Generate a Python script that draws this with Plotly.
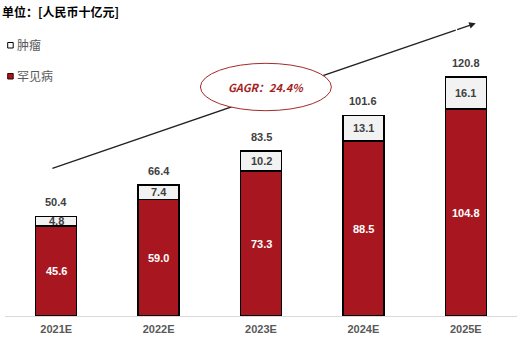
import plotly.graph_objects as go

years = ["2021E", "2022E", "2023E", "2024E", "2025E"]
rare = [45.6, 59.0, 73.3, 88.5, 104.8]
tumor = [4.8, 7.4, 10.2, 13.1, 16.1]
totals = [50.4, 66.4, 83.5, 101.6, 120.8]

RED = "#A8171F"
LIGHT = "#F2F2F2"
NUMFONT = "Arial, Liberation Sans, sans-serif"
CJK = "Noto Sans CJK SC, sans-serif"

fig = go.Figure()
fig.add_trace(go.Bar(x=years, y=rare, name="罕见病", marker=dict(color=RED, line=dict(color="#000000", width=1.5)), width=0.4))
fig.add_trace(go.Bar(x=years, y=tumor, name="肿瘤", marker=dict(color=LIGHT, line=dict(color="#000000", width=1.5)), width=0.4))

ann = []
for i, y in enumerate(years):
    ann.append(dict(x=y, y=rare[i] / 2, text=f"{rare[i]:.1f}", showarrow=False,
                    font=dict(family=NUMFONT, size=11, color="#FFFFFF", weight="bold")))
    ann.append(dict(x=y, y=rare[i] + tumor[i] / 2, text=f"{tumor[i]:.1f}", showarrow=False,
                    font=dict(family=NUMFONT, size=11, color="#404040", weight="bold")))
    ann.append(dict(x=y, y=rare[i] + tumor[i], text=f"{totals[i]:.1f}", showarrow=False, yshift=14,
                    font=dict(family=NUMFONT, size=11, color="#404040", weight="bold")))

# title
ann.append(dict(xref="paper", yref="paper", x=-5.3/512, y=(316-12)/316, xanchor="left", yanchor="middle",
                text="<b>单位：[人民币十亿元]</b>", showarrow=False,
                font=dict(family=CJK, size=12, color="#000000")))
# legend texts
ann.append(dict(xref="paper", yref="paper", x=(15-5.3)/512, y=(316-45)/316, xanchor="left", yanchor="middle",
                text="肿瘤", showarrow=False, font=dict(family=CJK, size=12, color="#595959")))
ann.append(dict(xref="paper", yref="paper", x=(15-5.3)/512, y=(316-76)/316, xanchor="left", yanchor="middle",
                text="罕见病", showarrow=False, font=dict(family=CJK, size=12, color="#595959")))

# arrow geometry in data coords
def px2x(px):
    return (px - 56.5) / 102.4

def py2y(py):
    return (316 - py) / 1.975

tail = (px2x(52.7), py2y(168.3))
head = (px2x(476), py2y(23.3))
mid = (px2x(456), py2y(30.1))

ann.append(dict(x=head[0], y=head[1], ax=mid[0], ay=mid[1], xref="x", yref="y", axref="x", ayref="y",
                text="", showarrow=True, arrowhead=2, arrowsize=1, arrowwidth=1.3, arrowcolor="#222222"))
# CAGR text
ann.append(dict(x=px2x(266), y=py2y(87), text="<b><i>GAGR：24.4%</i></b>", showarrow=False,
                font=dict(family=CJK, size=11, color="#A31F24")))

shapes = [
    dict(type="line", xref="x", yref="y", x0=tail[0], y0=tail[1], x1=mid[0], y1=mid[1],
         line=dict(color="#222222", width=1.3)),
    dict(type="circle", xref="x", yref="y", x0=px2x(200.7), x1=px2x(331.7), y0=py2y(110.7), y1=py2y(63.3),
         fillcolor="#FFFFFF", line=dict(color="#A52A2A", width=1)),
    # legend squares
    dict(type="rect", xref="paper", yref="paper", x0=(8-5.3)/512, x1=(13.5-5.3)/512,
         y0=(316-48)/316, y1=(316-42.5)/316, fillcolor="#FFFFFF", line=dict(color="#000000", width=1)),
    dict(type="rect", xref="paper", yref="paper", x0=(8-5.3)/512, x1=(13.5-5.3)/512,
         y0=(316-79)/316, y1=(316-73.5)/316, fillcolor=RED, line=dict(color="#3a0000", width=1)),
]

fig.update_layout(
    barmode="stack",
    width=531, height=338,
    margin=dict(l=5, r=14, t=0, b=22),
    plot_bgcolor="#FFFFFF", paper_bgcolor="#FFFFFF",
    showlegend=False,
    annotations=ann,
    shapes=shapes,
    xaxis=dict(range=[-0.5, 4.5], showline=True, linecolor="#D9D9D9", linewidth=1.2, ticks="",
               ticklabelstandoff=3,
               tickfont=dict(family=NUMFONT, size=11, color="#595959", weight="bold"), showgrid=False),
    yaxis=dict(range=[0, 160], visible=False, showgrid=False),
)

fig.write_html("out.html")
